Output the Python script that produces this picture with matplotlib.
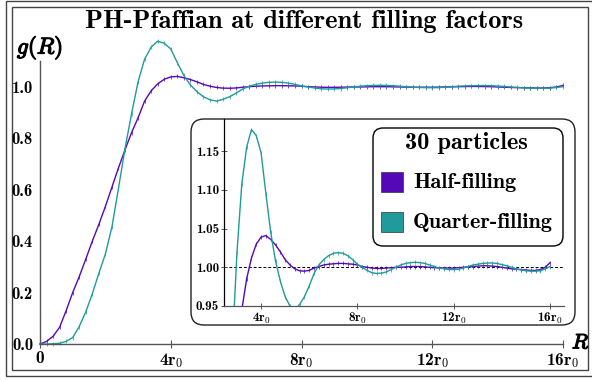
import numpy as np
import matplotlib
matplotlib.use("Agg")
import matplotlib.pyplot as plt
from matplotlib.patches import FancyBboxPatch, Rectangle
import matplotlib.patheffects as pe

plt.rcParams['mathtext.fontset'] = 'cm'
plt.rcParams['font.family'] = ['cmb10', 'DejaVu Serif']

# ---- data ----
R = [0.0, 0.2, 0.4, 0.6, 0.8, 1.0, 1.2, 1.4, 1.6, 1.8, 2.0, 2.2, 2.4, 2.6, 2.8,
     3.0, 3.2, 3.4, 3.6, 3.8, 4.0, 4.2, 4.4, 4.6, 4.8, 5.0, 5.2, 5.4, 5.6, 5.8,
     6.0, 6.2, 6.4, 6.6, 6.8, 7.0, 7.2, 7.4, 7.6, 7.8, 8.0, 8.2, 8.4, 8.6, 8.8,
     9.0, 9.2, 9.4, 9.6, 9.8, 10.0, 10.2, 10.4, 10.6, 10.8, 11.0, 11.2, 11.4,
     11.6, 11.8, 12.0, 12.2, 12.4, 12.6, 12.8, 13.0, 13.2, 13.4, 13.6, 13.8,
     14.0, 14.2, 14.4, 14.6, 14.8, 15.0, 15.2, 15.4, 15.6, 15.8, 16.0]

g_half = [0.000, 0.010, 0.030, 0.065, 0.130, 0.200, 0.262, 0.330, 0.400, 0.465,
          0.535, 0.610, 0.685, 0.755, 0.822, 0.880, 0.945, 0.985, 1.012, 1.030,
          1.039, 1.041, 1.036, 1.029, 1.020, 1.010, 1.003, 0.998, 0.9955, 0.995,
          0.996, 0.999, 1.001, 1.003, 1.004, 1.0045, 1.005, 1.005, 1.0045, 1.004,
          1.003, 1.001, 1.000, 0.999, 0.9985, 0.9985, 0.999, 0.9995, 1.000, 1.000,
          1.0005, 1.001, 1.001, 1.001, 1.0005, 1.000, 0.9995, 0.999, 0.999, 0.999,
          0.999, 0.9995, 1.000, 1.0005, 1.001, 1.0015, 1.002, 1.002, 1.0015, 1.001,
          1.000, 0.999, 0.998, 0.9975, 0.997, 0.9965, 0.996, 0.996, 0.997, 1.000,
          1.006]

g_quarter = [0.000, 0.000, 0.001, 0.003, 0.010, 0.025, 0.068, 0.125, 0.195, 0.275,
             0.350, 0.455, 0.605, 0.760, 0.895, 1.020, 1.108, 1.155, 1.178, 1.170,
             1.148, 1.095, 1.045, 1.008, 0.982, 0.962, 0.950, 0.945, 0.952, 0.962,
             0.976, 0.992, 1.003, 1.010, 1.015, 1.018, 1.019, 1.018, 1.015, 1.010,
             1.004, 1.000, 0.996, 0.993, 0.992, 0.9925, 0.994, 0.997, 1.000, 1.003,
             1.005, 1.006, 1.0065, 1.006, 1.005, 1.003, 1.001, 0.999, 0.998, 0.9972,
             0.997, 0.9975, 0.999, 1.001, 1.003, 1.004, 1.005, 1.0055, 1.0056, 1.005,
             1.0035, 1.002, 1.000, 0.998, 0.9965, 0.9955, 0.995, 0.995, 0.9955, 0.998,
             1.001]

main_yticks = [0.0, 0.2, 0.4, 0.6, 0.8, 1.0]
main_ytick_labels = ['0.0', '0.2', '0.4', '0.6', '0.8', '1.0']
xticks = [0, 4, 8, 12, 16]
xtick_labels = ['0', '4r_0', '8r_0', '12r_0', '16r_0']
inset_xticks = [4, 8, 12, 16]
inset_yticks = [0.95, 1.00, 1.05, 1.10, 1.15]
inset_ytick_labels = ['0.95', '1.00', '1.05', '1.10', '1.15']

series_names = ['Half-filling', 'Quarter-filling']
colors = ['#5508b8', '#1f9b9b']
legend_title = '30 particles'
title = 'PH-Pfaffian at different filling factors'


def xl(s):
    if s == '0':
        return '0'
    num = s.split('r')[0]
    return num + r'r$_{0}$'


fig = plt.figure(figsize=(5.92, 3.81), dpi=100)
W, H = 592, 381
spine_col = '#555555'

# outer frames
fig.patches.append(Rectangle((0.06, 0.05), 5.95, 3.75, transform=fig.dpi_scale_trans,
                             fill=False, ec='#444444', lw=1.0, zorder=0))
fig.patches.append(Rectangle((0.12, 0.11), 5.76, 3.63, transform=fig.dpi_scale_trans,
                             fill=False, ec='#444444', lw=1.0, zorder=0))

# main axes
ax = fig.add_axes([40 / W, (H - 344) / H, (563 - 40) / W, (344 - 61) / H])
ax.set_zorder(0.5)
ax.patch.set_alpha(0)
for name, g, c in zip(series_names, [g_half, g_quarter], colors):
    ax.plot(R, g, color=c, lw=1.0, marker='|', ms=2.2, mew=0.5, clip_on=False)
ax.set_xlim(0, 16)
ax.set_ylim(0, 1.101)
for s in ['top', 'right']:
    ax.spines[s].set_visible(False)
for s in ['left', 'bottom']:
    ax.spines[s].set_color(spine_col)
    ax.spines[s].set_linewidth(1.0)
ax.set_xticks(xticks)
ax.set_xticklabels([xl(s) for s in xtick_labels], fontsize=12.5)
ax.set_yticks(main_yticks)
ax.set_yticklabels(main_ytick_labels, fontsize=12)
ax.tick_params(direction='inout', length=6, width=0.8, color=spine_col, pad=2)
ax.tick_params(axis='y', length=0, pad=5)

stroke = [pe.withStroke(linewidth=0.9, foreground='black')]
fig.text(17 / W, (H - 48) / H, r'$g(R)$', fontsize=16.5, va='center', ha='left',
         path_effects=stroke)
fig.text(572 / W, (H - 343) / H, r'$R$', fontsize=15, va='center', ha='left',
         path_effects=stroke)
fig.text(304 / W, (H - 28) / H, title, fontsize=19, ha='center', va='baseline')

# inset frame
fig.patches.append(FancyBboxPatch((1.91, 0.56), 3.84, 2.06,
                                  boxstyle='round,pad=0,rounding_size=0.13',
                                  transform=fig.dpi_scale_trans,
                                  fc='white', ec='#222222', lw=1.0, zorder=1))

# inset axes
axi = fig.add_axes([224 / W, (H - 306) / H, (564 - 224) / W, (306 - 119) / H])
axi.set_zorder(2)
axi.patch.set_alpha(0)
axi.axhline(1.0, color='black', lw=0.7, ls=(0, (3, 2)), zorder=1)
for name, g, c in zip(series_names, [g_half, g_quarter], colors):
    axi.plot(R, g, color=c, lw=1.0, marker='|', ms=2.2, mew=0.5, zorder=2)
axi.set_xlim(2.46, 16.58)
axi.set_ylim(0.95, 1.1916)
for s in ['top', 'right']:
    axi.spines[s].set_visible(False)
for s in ['left', 'bottom']:
    axi.spines[s].set_color(spine_col)
    axi.spines[s].set_linewidth(0.9)
axi.spines['left'].set_color('black')
axi.set_xticks(inset_xticks)
axi.set_xticklabels([xl(s) for s in xtick_labels[1:]], fontsize=9.5)
axi.set_yticks(inset_yticks)
axi.set_yticklabels(inset_ytick_labels, fontsize=9.5)
axi.tick_params(direction='inout', length=4, width=0.7, color=spine_col, pad=1.5)

# legend box
fig.patches.append(FancyBboxPatch((3.73, 1.35), 1.90, 1.18,
                                  boxstyle='round,pad=0,rounding_size=0.1',
                                  transform=fig.dpi_scale_trans,
                                  fc='white', ec='black', lw=1.0, zorder=3))
fig.text(466 / W, (H - 143) / H, legend_title, fontsize=17.5, ha='center', va='center',
         zorder=4)
for i, (name, c) in enumerate(zip(series_names, colors)):
    yc = [182, 222][i]
    fig.patches.append(Rectangle((3.81, (H - yc - 10) / 100), 0.22, 0.20,
                                 transform=fig.dpi_scale_trans, fc=c,
                                 ec='#333333', lw=0.5, zorder=4))
    fig.text(413 / W, (H - yc) / H, name, fontsize=16, ha='left', va='center',
             zorder=4)

fig.savefig('out.png', dpi=100)
